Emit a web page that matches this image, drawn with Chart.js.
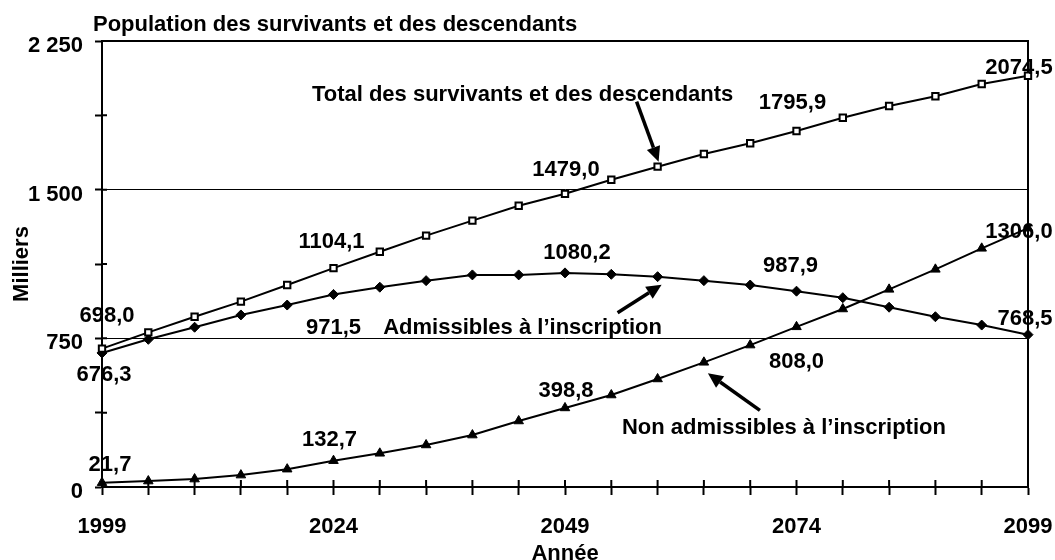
<!DOCTYPE html>
<html lang="fr">
<head>
<meta charset="utf-8">
<script src="https://cdn.jsdelivr.net/npm/chart.js@4.4.0/dist/chart.umd.min.js"></script>
<style>
  html, body { margin: 0; padding: 0; background: #fff; }
  #wrap { position: relative; width: 1055px; height: 560px; }
</style>
</head>
<body>
<div id="wrap"><canvas id="c" width="1055" height="560"></canvas></div>
<script>
/* Survivants et descendants : total, admissibles, non admissibles (milliers) */
const ANNEES = [1999, 2004, 2009, 2014, 2019, 2024, 2029, 2034, 2039, 2044, 2049,
  2054, 2059, 2064, 2069, 2074, 2079, 2084, 2089, 2094, 2099];
const TOTAL = [698.0, 780, 859, 935, 1019, 1104.1, 1187, 1268, 1344, 1419, 1479.0,
  1550, 1616, 1680, 1734, 1795.9, 1863, 1922, 1971, 2033, 2074.5];
const ADMIS = [676.3, 745, 806, 868, 918, 971.5, 1008, 1041, 1070, 1070, 1080.2,
  1073, 1061, 1041, 1019, 987.9, 955, 907, 859, 817, 768.5];
const NON_ADMIS = [21.7, 30, 40, 60, 90, 132.7, 170, 212, 262, 333, 398.8,
  464, 545, 629, 716, 808.0, 898, 997, 1098, 1204, 1306.0];
const Y_LABELS = [0, 750, 1500, 2250];

const FONT = "'Liberation Sans', Arial, sans-serif";
const TAILLE = 22;
const fmtVal = v => v.toFixed(1).replace('.', ',');
const fmtMille = v => String(v).replace(/\B(?=(\d{3})+(?!\d))/g, ' ');

// étiquettes de valeurs : série, index, décalage en px
const ETIQUETTES = [
  { s: 0, i: 0, dx: 5, dy: -33 }, { s: 1, i: 0, dx: 2, dy: 22 }, { s: 2, i: 0, dx: 8, dy: -18 },
  { s: 0, i: 5, dx: -2, dy: -26 }, { s: 1, i: 5, dx: 0, dy: 34 }, { s: 2, i: 5, dx: -4, dy: -21 },
  { s: 0, i: 10, dx: 1, dy: -24 }, { s: 1, i: 10, dx: 12, dy: -20 }, { s: 2, i: 10, dx: 1, dy: -17 },
  { s: 0, i: 15, dx: -4, dy: -28 }, { s: 1, i: 15, dx: -6, dy: -25 }, { s: 2, i: 15, dx: 0, dy: 35 },
  { s: 0, i: 20, dx: -9, dy: -8 }, { s: 1, i: 20, dx: -3, dy: -16 }, { s: 2, i: 20, dx: -9, dy: 4 },
];

// légendes fléchées, ancrées sur un point de la série
const FLECHES = [
  { s: 0, i: 12, texte: 'Total des survivants et des descendants', tx: -135, ty: -72, x0: -21, y0: -65, x1: 1, y1: -5 },
  { s: 1, i: 12, texte: 'Admissibles à l\u2019inscription', tx: -135, ty: 51, x0: -40, y0: 36, x1: 4, y1: 8 },
  { s: 2, i: 13, texte: 'Non admissibles à l\u2019inscription', tx: 80, ty: 66, x0: 56, y0: 48, x1: 4, y1: 11 },
];

function fleche(ctx, x0, y0, x1, y1) {
  const a = Math.atan2(y1 - y0, x1 - x0);
  const L = 15, W = 7;
  const bx = x1 - L * Math.cos(a), by = y1 - L * Math.sin(a);
  ctx.beginPath();
  ctx.moveTo(x0, y0);
  ctx.lineTo(bx, by);
  ctx.lineWidth = 3.5;
  ctx.stroke();
  ctx.beginPath();
  ctx.moveTo(x1, y1);
  ctx.lineTo(bx + W * Math.sin(a), by - W * Math.cos(a));
  ctx.lineTo(bx - W * Math.sin(a), by + W * Math.cos(a));
  ctx.closePath();
  ctx.fill();
}

const habillage = {
  id: 'habillage',
  beforeDatasetsDraw(chart) {
    const { ctx, chartArea: ca, scales } = chart;
    ctx.save();
    ctx.strokeStyle = '#000';
    ctx.lineWidth = 2;
    ctx.beginPath();
    ctx.moveTo(ca.left, ca.top);
    ctx.lineTo(ca.right, ca.top);
    ctx.lineTo(ca.right, ca.bottom);
    ctx.stroke();
    // petites graduations vers l'intérieur
    ctx.beginPath();
    scales.x.ticks.forEach((t, k) => {
      const x = scales.x.getPixelForTick(k);
      ctx.moveTo(x, ca.bottom);
      ctx.lineTo(x, ca.bottom - 7);
    });
    scales.y.ticks.forEach((t, k) => {
      const y = scales.y.getPixelForTick(k);
      ctx.moveTo(ca.left, y);
      ctx.lineTo(ca.left + 5, y);
    });
    ctx.stroke();
    ctx.restore();
  },
  afterDatasetsDraw(chart) {
    const { ctx } = chart;
    ctx.save();
    ctx.fillStyle = '#000';
    ctx.strokeStyle = '#000';
    ctx.textAlign = 'center';
    ctx.textBaseline = 'middle';
    ctx.font = 'bold ' + TAILLE + 'px ' + FONT;
    ETIQUETTES.forEach(e => {
      const pt = chart.getDatasetMeta(e.s).data[e.i];
      const v = chart.data.datasets[e.s].data[e.i];
      ctx.fillText(fmtVal(v), pt.x + e.dx, pt.y + e.dy);
    });
    FLECHES.forEach(f => {
      const pt = chart.getDatasetMeta(f.s).data[f.i];
      ctx.fillText(f.texte, pt.x + f.tx, pt.y + f.ty);
      fleche(ctx, pt.x + f.x0, pt.y + f.y0, pt.x + f.x1, pt.y + f.y1);
    });
    ctx.textAlign = 'left';
    ctx.textBaseline = 'alphabetic';
    ctx.fillText('Population des survivants et des descendants', 93, 31);
    ctx.restore();
  },
};

const serie = (label, data, style, radius, fill) => ({
  label, data,
  borderColor: '#000', borderWidth: 2,
  pointStyle: style, pointRadius: radius,
  pointBackgroundColor: fill, pointBorderColor: '#000', pointBorderWidth: style === 'rect' ? 2 : 1,
  tension: 0, fill: false,
});

const police = { family: FONT, size: TAILLE, weight: 'bold' };

new Chart(document.getElementById('c'), {
  type: 'line',
  data: {
    labels: ANNEES,
    datasets: [
      serie('Total des survivants et des descendants', TOTAL, 'rect', 4.5, '#fff'),
      serie('Admissibles à l\u2019inscription', ADMIS, 'rectRot', 5, '#000'),
      serie('Non admissibles à l\u2019inscription', NON_ADMIS, 'triangle', 5.5, '#000'),
    ],
  },
  options: {
    responsive: false, animation: false,
    layout: { padding: { top: 41, right: 27, left: 0, bottom: 0 } },
    plugins: { legend: { display: false }, tooltip: { enabled: false } },
    scales: {
      x: {
        type: 'category', offset: false,
        grid: { drawOnChartArea: false, offset: false, tickLength: 8, tickColor: '#000', tickWidth: 2 },
        border: { color: '#000', width: 2 },
        ticks: {
          autoSkip: false, maxRotation: 0, padding: 19, color: '#000', font: police,
          callback: (v, i) => (i % 5 === 0 ? String(ANNEES[i]) : ''),
        },
        title: { display: true, text: 'Année', color: '#000', font: police, padding: { top: 0, bottom: -7 } },
        afterFit: s => { s.height = 73; s.paddingLeft = 0; s.paddingRight = 0; },
      },
      y: {
        min: 0, max: 2250,
        grid: {
          color: c => (c.tick && c.tick.value > 0 && c.tick.value % 750 === 0 ? '#000' : 'rgba(0,0,0,0)'),
          lineWidth: 1, tickLength: 7, tickColor: '#000', tickWidth: 2,
        },
        border: { color: '#000', width: 2 },
        ticks: {
          stepSize: 375, padding: 12, labelOffset: 5, color: '#000', font: police,
          callback: v => (Y_LABELS.includes(v) ? fmtMille(v) : ''),
        },
        title: { display: true, text: 'Milliers', color: '#000', font: police, padding: { top: 9, bottom: 0 } },
        afterFit: s => { s.width = 102; s.paddingTop = 0; s.paddingBottom = 0; },
      },
    },
  },
  plugins: [habillage],
});
</script>
</body>
</html>
